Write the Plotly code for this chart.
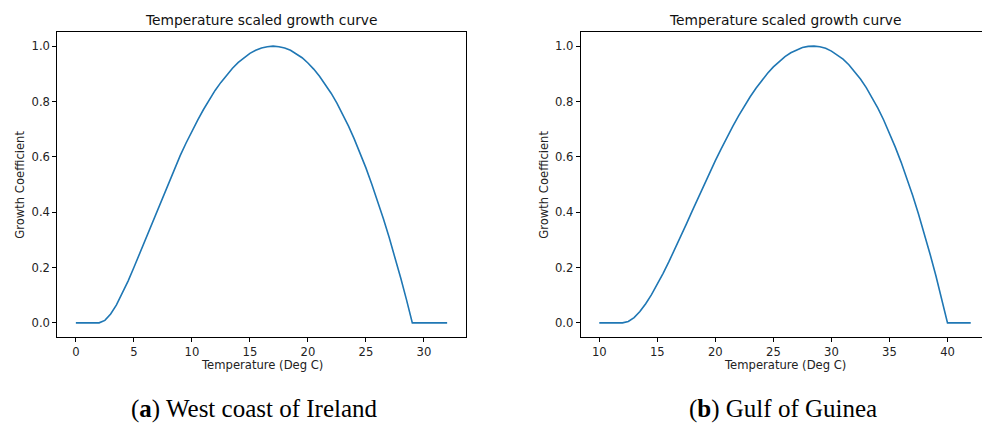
import plotly.graph_objects as go

# ---- data ----
temp_a = [0, 1, 2, 2.5, 3, 3.5, 4, 4.5, 5, 5.5, 6, 6.5, 7, 7.5, 8, 8.5, 9, 9.5, 10, 10.5,
          11, 11.5, 12, 12.5, 13, 13.5, 14, 14.5, 15, 15.5, 16, 16.5, 17, 17.5, 18, 18.5,
          19, 19.5, 20, 20.5, 21, 21.5, 22, 22.5, 23, 23.5, 24, 24.5, 25, 25.5, 26, 26.5,
          27, 27.5, 28, 28.5, 29, 30, 31, 32]
growth_a = [0, 0, 0, 0.009, 0.032, 0.065, 0.106, 0.151, 0.200, 0.251, 0.303, 0.355, 0.407,
            0.459, 0.509, 0.558, 0.605, 0.650, 0.693, 0.733, 0.771, 0.807, 0.840, 0.869,
            0.896, 0.920, 0.941, 0.959, 0.974, 0.985, 0.993, 0.998, 1.000, 0.998, 0.993,
            0.985, 0.973, 0.958, 0.939, 0.917, 0.891, 0.862, 0.830, 0.794, 0.754, 0.711,
            0.664, 0.614, 0.560, 0.502, 0.441, 0.377, 0.309, 0.237, 0.162, 0.083, 0, 0, 0, 0]

temp_b = [10, 11, 12, 12.5, 13, 13.5, 14, 14.5, 15, 15.5, 16, 16.5, 17, 17.5, 18, 18.5,
          19, 19.5, 20, 20.5, 21, 21.5, 22, 22.5, 23, 23.5, 24, 24.5, 25, 25.5, 26, 26.5,
          27, 27.5, 28, 28.5, 29, 29.5, 30, 30.5, 31, 31.5, 32, 32.5, 33, 33.5, 34, 34.5,
          35, 35.5, 36, 36.5, 37, 37.5, 38, 38.5, 39, 39.5, 40, 41, 42]
growth_b = [0, 0, 0, 0.005, 0.019, 0.041, 0.069, 0.102, 0.138, 0.179, 0.221, 0.265, 0.311,
            0.357, 0.404, 0.451, 0.497, 0.542, 0.586, 0.629, 0.671, 0.710, 0.748, 0.784,
            0.817, 0.848, 0.876, 0.902, 0.925, 0.945, 0.962, 0.976, 0.987, 0.995, 0.999,
            1.000, 0.998, 0.992, 0.982, 0.969, 0.953, 0.933, 0.909, 0.881, 0.850, 0.815,
            0.776, 0.733, 0.686, 0.635, 0.581, 0.522, 0.460, 0.393, 0.323, 0.248, 0.170,
            0.087, 0, 0, 0]

xticks_a = [0, 5, 10, 15, 20, 25, 30]
xticks_b = [10, 15, 20, 25, 30, 35, 40]
yticks = [0.0, 0.2, 0.4, 0.6, 0.8, 1.0]
title_text = "Temperature scaled growth curve"
xlabel = "Temperature (Deg C)"
ylabel = "Growth Coefficient"
captions = ["(<b>a</b>) West coast of Ireland", "(<b>b</b>) Gulf of Guinea"]

# page is offset by the 8px body margin; figure sized to fill the rest of the window
OFF = 8
W, H = 990 - OFF, 425 - OFF
LINE = "#1f77b4"
FONT = "DejaVu Sans"


def px(x):
    return (x - OFF) / W


def py(y):
    return (H - (y - OFF)) / H


fig = go.Figure()
fig.add_trace(go.Scatter(x=temp_a, y=growth_a, mode="lines", xaxis="x", yaxis="y",
                         line=dict(color=LINE, width=1.6), showlegend=False))
fig.add_trace(go.Scatter(x=temp_b, y=growth_b, mode="lines", xaxis="x2", yaxis="y2",
                         line=dict(color=LINE, width=1.6), showlegend=False))

ydom = [py(336.7), py(32.3)]
xdom_a = [px(57.3), px(465.7)]
xdom_b = [px(580.7), min(px(989.3), 1.0)]

axis_common = dict(showgrid=False, zeroline=False, showline=True, linecolor="black",
                   linewidth=1, mirror=True, ticks="outside", ticklen=4, tickwidth=1,
                   tickcolor="black", tickfont=dict(family=FONT, size=11.6, color="#222"))

fig.update_layout(
    width=W, height=H, margin=dict(l=0, r=0, t=0, b=0),
    paper_bgcolor="white", plot_bgcolor="white",
    xaxis=dict(domain=xdom_a, range=[-1.6, 33.6], tickvals=xticks_a, anchor="y", **axis_common),
    yaxis=dict(domain=ydom, range=[-0.05, 1.05], tickvals=yticks, tickformat=".1f",
               anchor="x", **axis_common),
    xaxis2=dict(domain=xdom_b, range=[8.4, 43.6], tickvals=xticks_b, anchor="y2", **axis_common),
    yaxis2=dict(domain=ydom, range=[-0.05, 1.05], tickvals=yticks, tickformat=".1f",
                anchor="x2", **axis_common),
)

annos = []
for dom, ylab_x in [(xdom_a, 19.3), (xdom_b, 543.3)]:
    cx = (dom[0] + dom[1]) / 2
    annos.append(dict(text=title_text, x=cx, y=py(20), xref="paper", yref="paper",
                      xanchor="center", yanchor="middle", showarrow=False,
                      font=dict(family=FONT, size=13.8, color="#111")))
    annos.append(dict(text=xlabel, x=cx, y=py(365), xref="paper", yref="paper",
                      xanchor="center", yanchor="middle", showarrow=False,
                      font=dict(family=FONT, size=11.6, color="#222")))
    annos.append(dict(text=ylabel, x=px(ylab_x), y=(ydom[0] + ydom[1]) / 2, xref="paper",
                      yref="paper", xanchor="center", yanchor="middle", textangle=-90,
                      showarrow=False, font=dict(family=FONT, size=11.6, color="#222")))

for cap, cx in zip(captions, [254.7, 783]):
    annos.append(dict(text=cap, x=px(cx), y=0, xref="paper", yref="paper",
                      xanchor="center", yanchor="bottom", showarrow=False,
                      font=dict(family="Liberation Serif", size=25, color="black")))

fig.update_layout(annotations=annos)
fig.write_html("out.html")
